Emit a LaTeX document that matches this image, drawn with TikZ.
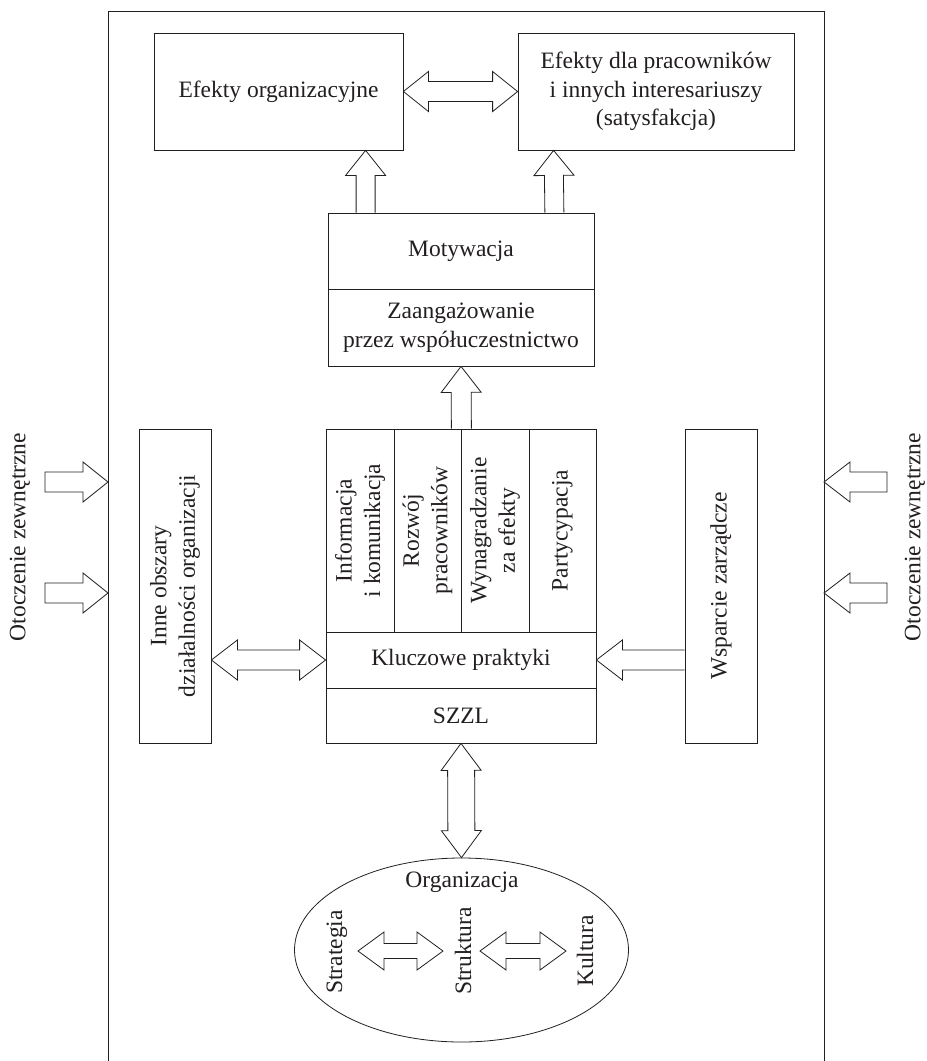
\documentclass[tikz,border=0pt]{standalone}
\usepackage{fontspec}
\setmainfont{Liberation Serif}
\usetikzlibrary{calc,shapes.geometric}
\definecolor{ink}{RGB}{35,31,32}
\newcommand\mainfnt{\fontsize{23.5}{28.5}\selectfont}
\tikzset{
  box/.style={draw=ink, line width=0.8pt, inner sep=0pt, align=center, font=\mainfnt, text=ink},
  lbl/.style={inner sep=0pt, align=center, font=\mainfnt, text=ink},
  vlbl/.style={lbl, rotate=90},
  blk/.style={draw=ink, line width=0.8pt, fill=white, line join=miter},
}
% single block arrow, open base: #1 from, #2 tip, #3 shaft half, #4 head half, #5 head length
\newcommand\blkarrow[5]{%
  \path (#1) coordinate (ba-a) (#2) coordinate (ba-b);
  \coordinate (ba-c) at ($(ba-b)!#5!(ba-a)$);
  \draw[blk] ($(ba-a)!#3!90:(ba-b)$) -- ($(ba-c)!#3!90:(ba-b)$) -- ($(ba-c)!#4!90:(ba-b)$)
    -- (ba-b) -- ($(ba-c)!#4!-90:(ba-b)$) -- ($(ba-c)!#3!-90:(ba-b)$) -- ($(ba-a)!#3!-90:(ba-b)$);
}
% single block arrow, closed base
\newcommand\blkarrowc[5]{%
  \path (#1) coordinate (ba-a) (#2) coordinate (ba-b);
  \coordinate (ba-c) at ($(ba-b)!#5!(ba-a)$);
  \draw[blk] ($(ba-a)!#3!90:(ba-b)$) -- ($(ba-c)!#3!90:(ba-b)$) -- ($(ba-c)!#4!90:(ba-b)$)
    -- (ba-b) -- ($(ba-c)!#4!-90:(ba-b)$) -- ($(ba-c)!#3!-90:(ba-b)$) -- ($(ba-a)!#3!-90:(ba-b)$) -- cycle;
}
% double block arrow
\newcommand\dblarrow[5]{%
  \path (#1) coordinate (ba-a) (#2) coordinate (ba-b);
  \coordinate (ba-c) at ($(ba-a)!#5!(ba-b)$);
  \coordinate (ba-d) at ($(ba-b)!#5!(ba-a)$);
  \draw[blk] (ba-a) -- ($(ba-c)!#4!90:(ba-b)$) -- ($(ba-c)!#3!90:(ba-b)$) -- ($(ba-d)!#3!90:(ba-b)$)
    -- ($(ba-d)!#4!90:(ba-b)$) -- (ba-b) -- ($(ba-d)!#4!-90:(ba-b)$) -- ($(ba-d)!#3!-90:(ba-b)$)
    -- ($(ba-c)!#3!-90:(ba-b)$) -- ($(ba-c)!#4!-90:(ba-b)$) -- cycle;
}
\begin{document}
\begin{tikzpicture}[x=1pt,y=-1pt]
\useasboundingbox[fill=white] (0,0) rectangle (927,1061);
% outer frame (bottom edge lies outside the picture)
\draw[ink, line width=0.8pt] (108,1070) -- (108,11) -- (824,11) -- (824,1070);
\coordinate (fl) at (108,0);
\coordinate (fr) at (824,0);

% top boxes
\node[box, minimum width=249pt, minimum height=117pt] (eorg) at (278.5,91.5) {Efekty organizacyjne};
\node[box, minimum width=276pt, minimum height=117pt] (eprac) at (656,91.5) {Efekty dla pracowników\\i innych interesariuszy\\(satysfakcja)};
\dblarrow{eorg.east}{eprac.west}{10pt}{20pt}{25pt}

% motivation block
\node[box, minimum width=266pt, minimum height=76pt] (mot) at (461,251) {Motywacja};
\node[box, minimum width=266pt, minimum height=77pt] (zaa) at (461,327.5) {Zaangażowanie\\przez współuczestnictwo};
\blkarrow{$(mot.north west)+(38,0)$}{$(eorg.south west)+(212,0)$}{9.5pt}{20pt}{25pt}
\blkarrow{$(mot.north east)+(-40,0)$}{$(eprac.south west)+(36,0)$}{9.5pt}{20pt}{25pt}

% key practices
\node[box, minimum width=68pt, minimum height=203pt] (c1) at (360,530.5) {};
\node[vlbl] at (c1) {Informacja\\i komunikacja};
\node[box, minimum width=67pt, minimum height=203pt] (c2) at (427.5,530.5) {};
\node[vlbl] at (c2) {Rozwój\\pracowników};
\node[box, minimum width=68pt, minimum height=203pt] (c3) at (495,530.5) {};
\node[vlbl] at (c3) {Wynagradzanie\\za efekty};
\node[box, minimum width=67pt, minimum height=203pt] (c4) at (562.5,530.5) {};
\node[vlbl] at (c4) {Partycypacja};
\node[box, minimum width=270pt, minimum height=56pt] (klu) at (461,660) {Kluczowe praktyki};
\node[box, minimum width=270pt, minimum height=55pt] (szzl) at (461,715.5) {SZZL};
\blkarrow{c2.north east}{zaa.south}{10pt}{20pt}{26pt}

% side boxes
\node[box, minimum width=72pt, minimum height=314pt] (inne) at (175,586) {};
\node[vlbl] at (inne) {Inne obszary\\działalności organizacji};
\node[box, minimum width=72pt, minimum height=314pt] (wsp) at (721,586) {};
\node[vlbl] at (wsp) {Wsparcie zarządcze};
\dblarrow{inne.east |- klu}{klu.west}{10pt}{20pt}{26pt}
\blkarrow{wsp.west |- klu}{klu.east}{10pt}{20pt}{26pt}

% external environment
\node[vlbl] (envl) at (20,537) {Otoczenie zewnętrzne};
\node[vlbl] (envr) at (915,537) {Otoczenie zewnętrzne};
\blkarrowc{45,482}{fl |- 0,482}{10pt}{20pt}{25pt}
\blkarrowc{45,593}{fl |- 0,593}{10pt}{20pt}{25pt}
\blkarrowc{887,482}{fr |- 0,482}{10pt}{20pt}{26pt}
\blkarrowc{887,593}{fr |- 0,593}{10pt}{20pt}{26pt}

% organization
\node[ellipse, draw=ink, line width=0.8pt, minimum width=334pt, minimum height=184pt, inner sep=0pt] (orgn) at (461.5,950) {};
\dblarrow{szzl.south}{orgn.north}{13.5pt}{20pt}{27pt}
\node[lbl] (orgl) at (462,882) {Organizacja};
\node[vlbl] (strat) at (337,952) {Strategia};
\node[vlbl] (strukt) at (463,951) {Struktura};
\node[vlbl] (kult) at (585,951) {Kultura};
\dblarrow{$(strat)+(21,-1)$}{$(strukt)+(-20,0)$}{7.5pt}{19pt}{26pt}
\dblarrow{$(strukt)+(17,0)$}{$(kult)+(-19,0)$}{7.5pt}{19pt}{26pt}
\end{tikzpicture}
\end{document}
